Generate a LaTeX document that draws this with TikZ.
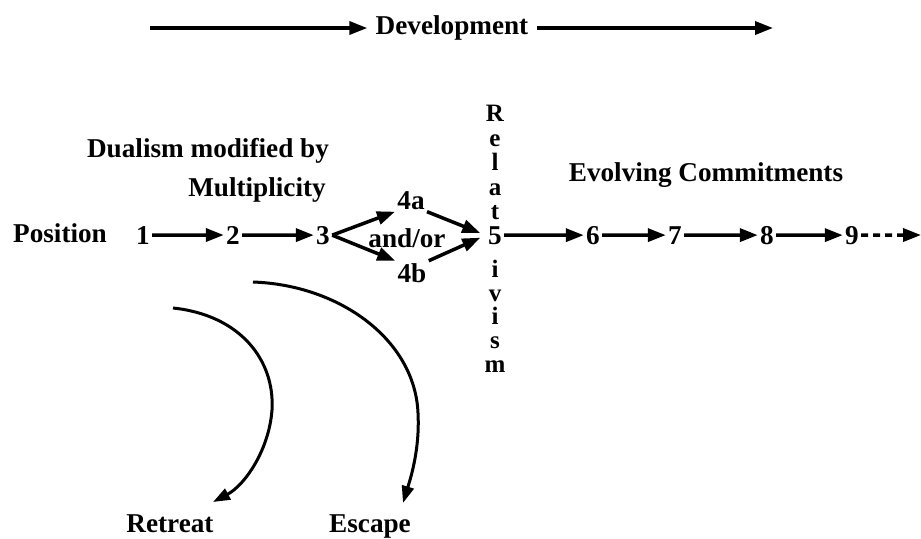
\documentclass[tikz,border=0pt]{standalone}
\usepackage{fontspec}
\setmainfont{Liberation Serif}
\usetikzlibrary{arrows.meta}
\begin{document}
\begin{tikzpicture}[x=0.5pt,y=-0.5pt,
  every node/.style={font=\fontsize{13.6}{16}\selectfont\bfseries, inner sep=1pt},
  lbl/.style={inner sep=0pt},
  num/.style={anchor=base},
  letter/.style={anchor=base, inner sep=0pt, font=\fontsize{12.5}{14}\selectfont\bfseries},
  arr/.style={line width=1.75pt, -{Triangle[length=9pt,width=6.5pt]}},
  curv/.style={line width=1.5pt, -{Triangle[length=8.5pt,width=6pt]}},
  dasharr/.style={arr, dash pattern=on 3.5pt off 2.5pt}]
\useasboundingbox (0,0) rectangle (921,538);

% top
\coordinate (devL) at (150,28);
\coordinate (devR) at (773,28);
\node[inner xsep=4pt] (dev) at (452,28) {Development};
\draw[arr] (devL) -- (dev.west);
\draw[arr] (dev.east) -- (devR);

% labels
\node[lbl] (dual) at (208,151) {Dualism modified by};
\node[lbl] (mult) at (257,190) {Multiplicity};
\node[lbl] (pos) at (60,233) {Position};
\node[lbl] (evol) at (706,175) {Evolving Commitments};
\node[lbl] (andor) at (407,238) {and/or};

% positions
\node[num] (p1) at (143,244) {1};
\node[num] (p2) at (233,244) {2};
\node[num] (p3) at (323,244) {3};
\node[num] (p4a) at (411,209) {4a};
\node[num] (p4b) at (412,282) {4b};
\node[num] (p5) at (495,244) {5};
\node[num] (p6) at (593,244) {6};
\node[num] (p7) at (675,244) {7};
\node[num] (p8) at (767,244) {8};
\node[num] (p9) at (852,244) {9};
\coordinate (pend) at (921,235);

% Relativism
\foreach \l [count=\k] in {R,e,l,a,t}
  \node[letter] (rel\k) at (495,{121.5+(\k-1)*24.6}) {\l};
\foreach \l [count=\k] in {i,v,i,s,m}
  \node[letter] (rell\k) at (495,{372.5-(5-\k)*23.8}) {\l};

\draw[arr] (p1) -- (p2);
\draw[arr] (p2) -- (p3);
\draw[arr] (p3.east) -- (p4a.south west);
\draw[arr] (p3.east) -- (p4b.north west);
\draw[arr,shorten >=3pt] (p4a.south east) -- (p5.west);
\draw[arr,shorten >=3pt] (p4b.north east) -- (p5.west);
\draw[arr] (p5) -- (p6);
\draw[arr] (p6) -- (p7);
\draw[arr] (p7) -- (p8);
\draw[arr] (p8) -- (p9);
\draw[dasharr] (p9) -- (pend);

% curves
\node[lbl, anchor=base] (retreat) at (170,532) {Retreat};
\node[lbl, anchor=base] (escape) at (370,532) {Escape};
\coordinate (rs) at (173,308);
\coordinate (re) at (213,502);
\coordinate (es) at (253,282);
\coordinate (ee) at (403,503);
\draw[curv] (rs) .. controls (240,315) and (275,360) .. (272,410)
  .. controls (269,450) and (245,485) .. (re);
\draw[curv] (es) .. controls (340,285) and (415,340) .. (418,413)
  .. controls (420,450) and (410,480) .. (ee);
\end{tikzpicture}
\end{document}
